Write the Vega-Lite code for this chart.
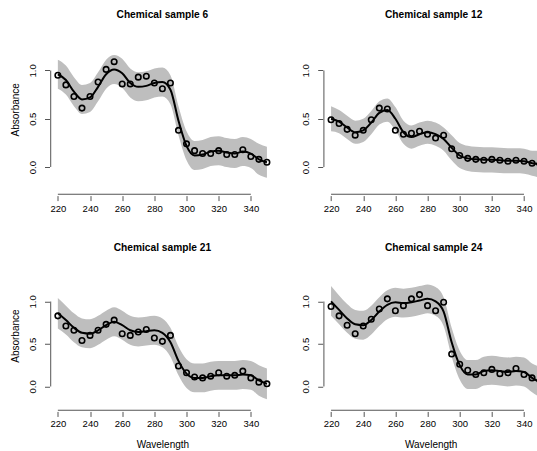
{
  "$schema": "https://vega.github.io/schema/vega-lite/v6.json",
  "padding": {"left": 9.5, "top": 10, "right": 0, "bottom": 0},
  "background": "white",
  "config": {
    "view": {"stroke": null},
    "font": "Liberation Sans",
    "scale": {"continuousPadding": 0},
    "axis": {"grid": false, "domain": false, "ticks": true, "tickColor": "#555", "tickSize": 5, "tickWidth": 1, "labelOverlap": false, "labelSeparation": 0, "labelFlush": false,
             "labelFont": "Liberation Sans", "labelFontSize": 9.5, "labelColor": "#000",
             "titleFont": "Liberation Sans", "titleFontSize": 10, "titleFontWeight": "normal", "titleColor": "#000"},
    "title": {"font": "Liberation Sans", "fontSize": 10.2, "fontWeight": "bold", "color": "#000"}
  },
  "datasets": {
    "s6": [
      {"wl": 220, "obs": 0.95, "fit": 0.96, "lo": 0.81, "hi": 1.11},
      {"wl": 225, "obs": 0.85, "fit": 0.90, "lo": 0.75, "hi": 1.05},
      {"wl": 230, "obs": 0.73, "fit": 0.78, "lo": 0.63, "hi": 0.93},
      {"wl": 235, "obs": 0.61, "fit": 0.70, "lo": 0.55, "hi": 0.85},
      {"wl": 240, "obs": 0.73, "fit": 0.72, "lo": 0.57, "hi": 0.87},
      {"wl": 245, "obs": 0.88, "fit": 0.83, "lo": 0.68, "hi": 0.98},
      {"wl": 250, "obs": 1.01, "fit": 0.96, "lo": 0.81, "hi": 1.11},
      {"wl": 255, "obs": 1.09, "fit": 1.01, "lo": 0.86, "hi": 1.16},
      {"wl": 260, "obs": 0.86, "fit": 0.97, "lo": 0.82, "hi": 1.12},
      {"wl": 265, "obs": 0.86, "fit": 0.87, "lo": 0.72, "hi": 1.02},
      {"wl": 270, "obs": 0.93, "fit": 0.83, "lo": 0.68, "hi": 0.98},
      {"wl": 275, "obs": 0.94, "fit": 0.84, "lo": 0.69, "hi": 0.99},
      {"wl": 280, "obs": 0.87, "fit": 0.87, "lo": 0.72, "hi": 1.02},
      {"wl": 285, "obs": 0.81, "fit": 0.88, "lo": 0.73, "hi": 1.03},
      {"wl": 290, "obs": 0.87, "fit": 0.80, "lo": 0.65, "hi": 0.95},
      {"wl": 295, "obs": 0.38, "fit": 0.48, "lo": 0.33, "hi": 0.63},
      {"wl": 300, "obs": 0.24, "fit": 0.22, "lo": 0.07, "hi": 0.37},
      {"wl": 305, "obs": 0.17, "fit": 0.12, "lo": -0.03, "hi": 0.27},
      {"wl": 310, "obs": 0.14, "fit": 0.13, "lo": -0.02, "hi": 0.28},
      {"wl": 315, "obs": 0.14, "fit": 0.16, "lo": 0.01, "hi": 0.31},
      {"wl": 320, "obs": 0.17, "fit": 0.17, "lo": 0.02, "hi": 0.32},
      {"wl": 325, "obs": 0.13, "fit": 0.15, "lo": 0.00, "hi": 0.30},
      {"wl": 330, "obs": 0.13, "fit": 0.14, "lo": -0.01, "hi": 0.29},
      {"wl": 335, "obs": 0.18, "fit": 0.16, "lo": 0.01, "hi": 0.31},
      {"wl": 340, "obs": 0.11, "fit": 0.14, "lo": -0.01, "hi": 0.29},
      {"wl": 345, "obs": 0.08, "fit": 0.08, "lo": -0.08, "hi": 0.24},
      {"wl": 350, "obs": 0.05, "fit": 0.05, "lo": -0.11, "hi": 0.21}
    ],
    "s12": [
      {"wl": 220, "obs": 0.49, "fit": 0.50, "lo": 0.37, "hi": 0.63},
      {"wl": 225, "obs": 0.45, "fit": 0.47, "lo": 0.35, "hi": 0.59},
      {"wl": 230, "obs": 0.39, "fit": 0.41, "lo": 0.29, "hi": 0.53},
      {"wl": 235, "obs": 0.33, "fit": 0.36, "lo": 0.24, "hi": 0.48},
      {"wl": 240, "obs": 0.38, "fit": 0.38, "lo": 0.26, "hi": 0.50},
      {"wl": 245, "obs": 0.49, "fit": 0.46, "lo": 0.34, "hi": 0.58},
      {"wl": 250, "obs": 0.61, "fit": 0.56, "lo": 0.44, "hi": 0.68},
      {"wl": 255, "obs": 0.60, "fit": 0.59, "lo": 0.47, "hi": 0.71},
      {"wl": 260, "obs": 0.38, "fit": 0.50, "lo": 0.38, "hi": 0.62},
      {"wl": 265, "obs": 0.34, "fit": 0.36, "lo": 0.24, "hi": 0.48},
      {"wl": 270, "obs": 0.35, "fit": 0.31, "lo": 0.19, "hi": 0.43},
      {"wl": 275, "obs": 0.37, "fit": 0.34, "lo": 0.22, "hi": 0.46},
      {"wl": 280, "obs": 0.34, "fit": 0.36, "lo": 0.24, "hi": 0.48},
      {"wl": 285, "obs": 0.30, "fit": 0.34, "lo": 0.22, "hi": 0.46},
      {"wl": 290, "obs": 0.33, "fit": 0.29, "lo": 0.17, "hi": 0.41},
      {"wl": 295, "obs": 0.19, "fit": 0.20, "lo": 0.07, "hi": 0.33},
      {"wl": 300, "obs": 0.12, "fit": 0.12, "lo": -0.01, "hi": 0.25},
      {"wl": 305, "obs": 0.09, "fit": 0.09, "lo": -0.04, "hi": 0.22},
      {"wl": 310, "obs": 0.08, "fit": 0.08, "lo": -0.05, "hi": 0.21},
      {"wl": 315, "obs": 0.07, "fit": 0.075, "lo": -0.055, "hi": 0.205},
      {"wl": 320, "obs": 0.08, "fit": 0.075, "lo": -0.055, "hi": 0.205},
      {"wl": 325, "obs": 0.07, "fit": 0.07, "lo": -0.06, "hi": 0.20},
      {"wl": 330, "obs": 0.06, "fit": 0.065, "lo": -0.065, "hi": 0.195},
      {"wl": 335, "obs": 0.07, "fit": 0.065, "lo": -0.065, "hi": 0.195},
      {"wl": 340, "obs": 0.06, "fit": 0.06, "lo": -0.07, "hi": 0.19},
      {"wl": 345, "obs": 0.04, "fit": 0.04, "lo": -0.09, "hi": 0.17},
      {"wl": 350, "obs": 0.03, "fit": 0.03, "lo": -0.11, "hi": 0.17}
    ],
    "s21": [
      {"wl": 220, "obs": 0.83, "fit": 0.86, "lo": 0.68, "hi": 1.04},
      {"wl": 225, "obs": 0.71, "fit": 0.78, "lo": 0.61, "hi": 0.95},
      {"wl": 230, "obs": 0.66, "fit": 0.69, "lo": 0.52, "hi": 0.86},
      {"wl": 235, "obs": 0.54, "fit": 0.63, "lo": 0.46, "hi": 0.80},
      {"wl": 240, "obs": 0.60, "fit": 0.62, "lo": 0.45, "hi": 0.79},
      {"wl": 245, "obs": 0.66, "fit": 0.66, "lo": 0.49, "hi": 0.83},
      {"wl": 250, "obs": 0.73, "fit": 0.72, "lo": 0.55, "hi": 0.89},
      {"wl": 255, "obs": 0.78, "fit": 0.76, "lo": 0.59, "hi": 0.93},
      {"wl": 260, "obs": 0.62, "fit": 0.72, "lo": 0.55, "hi": 0.89},
      {"wl": 265, "obs": 0.60, "fit": 0.66, "lo": 0.49, "hi": 0.83},
      {"wl": 270, "obs": 0.64, "fit": 0.64, "lo": 0.47, "hi": 0.81},
      {"wl": 275, "obs": 0.67, "fit": 0.65, "lo": 0.48, "hi": 0.82},
      {"wl": 280, "obs": 0.57, "fit": 0.66, "lo": 0.49, "hi": 0.83},
      {"wl": 285, "obs": 0.53, "fit": 0.63, "lo": 0.46, "hi": 0.80},
      {"wl": 290, "obs": 0.60, "fit": 0.52, "lo": 0.35, "hi": 0.69},
      {"wl": 295, "obs": 0.24, "fit": 0.30, "lo": 0.13, "hi": 0.47},
      {"wl": 300, "obs": 0.16, "fit": 0.15, "lo": -0.02, "hi": 0.32},
      {"wl": 305, "obs": 0.11, "fit": 0.10, "lo": -0.07, "hi": 0.27},
      {"wl": 310, "obs": 0.10, "fit": 0.10, "lo": -0.07, "hi": 0.27},
      {"wl": 315, "obs": 0.12, "fit": 0.12, "lo": -0.05, "hi": 0.29},
      {"wl": 320, "obs": 0.16, "fit": 0.13, "lo": -0.04, "hi": 0.30},
      {"wl": 325, "obs": 0.12, "fit": 0.13, "lo": -0.04, "hi": 0.30},
      {"wl": 330, "obs": 0.13, "fit": 0.13, "lo": -0.04, "hi": 0.30},
      {"wl": 335, "obs": 0.18, "fit": 0.14, "lo": -0.03, "hi": 0.31},
      {"wl": 340, "obs": 0.10, "fit": 0.13, "lo": -0.04, "hi": 0.30},
      {"wl": 345, "obs": 0.05, "fit": 0.07, "lo": -0.11, "hi": 0.25},
      {"wl": 350, "obs": 0.03, "fit": 0.03, "lo": -0.15, "hi": 0.21}
    ],
    "s24": [
      {"wl": 220, "obs": 0.94, "fit": 1.00, "lo": 0.83, "hi": 1.18},
      {"wl": 225, "obs": 0.83, "fit": 0.90, "lo": 0.73, "hi": 1.07},
      {"wl": 230, "obs": 0.72, "fit": 0.80, "lo": 0.63, "hi": 0.97},
      {"wl": 235, "obs": 0.62, "fit": 0.73, "lo": 0.56, "hi": 0.90},
      {"wl": 240, "obs": 0.71, "fit": 0.72, "lo": 0.55, "hi": 0.89},
      {"wl": 245, "obs": 0.79, "fit": 0.78, "lo": 0.61, "hi": 0.95},
      {"wl": 250, "obs": 0.91, "fit": 0.88, "lo": 0.71, "hi": 1.05},
      {"wl": 255, "obs": 1.03, "fit": 0.96, "lo": 0.79, "hi": 1.13},
      {"wl": 260, "obs": 0.89, "fit": 0.99, "lo": 0.82, "hi": 1.16},
      {"wl": 265, "obs": 0.95, "fit": 0.98, "lo": 0.81, "hi": 1.15},
      {"wl": 270, "obs": 1.03, "fit": 0.99, "lo": 0.82, "hi": 1.16},
      {"wl": 275, "obs": 1.08, "fit": 1.01, "lo": 0.84, "hi": 1.18},
      {"wl": 280, "obs": 0.95, "fit": 1.03, "lo": 0.86, "hi": 1.20},
      {"wl": 285, "obs": 0.89, "fit": 1.00, "lo": 0.83, "hi": 1.17},
      {"wl": 290, "obs": 0.99, "fit": 0.88, "lo": 0.71, "hi": 1.05},
      {"wl": 295, "obs": 0.38, "fit": 0.52, "lo": 0.35, "hi": 0.69},
      {"wl": 300, "obs": 0.26, "fit": 0.25, "lo": 0.08, "hi": 0.42},
      {"wl": 305, "obs": 0.19, "fit": 0.14, "lo": -0.03, "hi": 0.31},
      {"wl": 310, "obs": 0.14, "fit": 0.14, "lo": -0.03, "hi": 0.31},
      {"wl": 315, "obs": 0.16, "fit": 0.18, "lo": 0.01, "hi": 0.35},
      {"wl": 320, "obs": 0.20, "fit": 0.19, "lo": 0.02, "hi": 0.36},
      {"wl": 325, "obs": 0.15, "fit": 0.18, "lo": 0.01, "hi": 0.35},
      {"wl": 330, "obs": 0.16, "fit": 0.17, "lo": 0.00, "hi": 0.34},
      {"wl": 335, "obs": 0.21, "fit": 0.18, "lo": 0.01, "hi": 0.35},
      {"wl": 340, "obs": 0.14, "fit": 0.17, "lo": 0.00, "hi": 0.34},
      {"wl": 345, "obs": 0.10, "fit": 0.10, "lo": -0.07, "hi": 0.27},
      {"wl": 350, "obs": 0.07, "fit": 0.05, "lo": -0.13, "hi": 0.23}
    ]
  },
  "columns": 2,
  "spacing": {"row": 63.75, "column": 47.2},
  "bounds": "flush",
  "concat": [
    {
      "data": {"name": "s6"},
      "width": 225.8, "height": 172.6,
      "title": {"text": "Chemical sample 6", "offset": -5.2, "baseline": "alphabetic", "frame": "group"},
      "resolve": {"axis": {"x": "independent", "y": "independent"}},
      "layer": [
        {"mark": {"type": "area", "color": "#bebebe", "opacity": 1, "interpolate": "monotone", "clip": true},
         "encoding": {
           "x": {"field": "wl", "type": "quantitative", "title": null, "scale": {"domain": [214.8, 355.2], "nice": false, "zero": false, "padding": 0},
                 "axis": {"values": [220, 240, 260, 280, 300, 320, 340], "labelPadding": 2.5}},
           "y": {"field": "lo", "type": "quantitative", "title": "Absorbance", "scale": {"domain": [-0.295, 1.49], "nice": false, "zero": false, "padding": 0},
                 "axis": {"values": [0, 0.5, 1], "format": ".1f", "labelAngle": 270, "labelAlign": "center", "labelBaseline": "bottom", "labelPadding": 7, "titlePadding": 7}},
           "y2": {"field": "hi"}}},
        {"mark": {"type": "line", "color": "#000", "strokeWidth": 2, "interpolate": "monotone", "clip": true},
         "encoding": {"x": {"field": "wl", "type": "quantitative", "axis": null}, "y": {"field": "fit", "type": "quantitative", "axis": null}}},
        {"mark": {"type": "point", "shape": "circle", "filled": false, "color": "#000", "opacity": 1, "size": 30, "strokeWidth": 1.6, "clip": true},
         "encoding": {"x": {"field": "wl", "type": "quantitative", "axis": null}, "y": {"field": "obs", "type": "quantitative", "axis": null}}},
        {"transform": [{"filter": "datum.wl == 220"}],
         "mark": {"type": "bar", "color": "#555", "opacity": 1, "size": 1},
         "encoding": {"x": {"datum": 215.55, "type": "quantitative", "axis": null}, "y": {"datum": 0, "type": "quantitative", "axis": null}, "y2": {"datum": 1}}},
        {"transform": [{"filter": "datum.wl == 220"}],
         "mark": {"type": "bar", "color": "#555", "opacity": 1, "size": 1},
         "encoding": {"x": {"datum": 220, "type": "quantitative", "axis": null}, "x2": {"datum": 340}, "y": {"datum": -0.282, "type": "quantitative", "axis": null}}}
      ]
    },
    {
      "data": {"name": "s12"},
      "width": 216, "height": 172.6,
      "title": {"text": "Chemical sample 12", "offset": -5.2, "baseline": "alphabetic", "frame": "group", "dx": 3},
      "resolve": {"axis": {"x": "independent", "y": "independent"}},
      "layer": [
        {"mark": {"type": "area", "color": "#bebebe", "opacity": 1, "interpolate": "monotone", "clip": true},
         "encoding": {
           "x": {"field": "wl", "type": "quantitative", "title": null, "scale": {"domain": [214.8, 349.13], "nice": false, "zero": false, "padding": 0},
                 "axis": {"values": [220, 240, 260, 280, 300, 320, 340], "labelPadding": 2.5}},
           "y": {"field": "lo", "type": "quantitative", "title": null, "scale": {"domain": [-0.295, 1.49], "nice": false, "zero": false, "padding": 0},
                 "axis": {"values": [0, 0.5, 1], "format": ".1f", "labelAngle": 270, "labelAlign": "center", "labelBaseline": "bottom", "labelPadding": 7}},
           "y2": {"field": "hi"}}},
        {"mark": {"type": "line", "color": "#000", "strokeWidth": 2, "interpolate": "monotone", "clip": true},
         "encoding": {"x": {"field": "wl", "type": "quantitative", "axis": null}, "y": {"field": "fit", "type": "quantitative", "axis": null}}},
        {"mark": {"type": "point", "shape": "circle", "filled": false, "color": "#000", "opacity": 1, "size": 30, "strokeWidth": 1.6, "clip": true},
         "encoding": {"x": {"field": "wl", "type": "quantitative", "axis": null}, "y": {"field": "obs", "type": "quantitative", "axis": null}}},
        {"transform": [{"filter": "datum.wl == 220"}],
         "mark": {"type": "bar", "color": "#555", "opacity": 1, "size": 1},
         "encoding": {"x": {"datum": 215.55, "type": "quantitative", "axis": null}, "y": {"datum": 0, "type": "quantitative", "axis": null}, "y2": {"datum": 1}}},
        {"transform": [{"filter": "datum.wl == 220"}],
         "mark": {"type": "bar", "color": "#555", "opacity": 1, "size": 1},
         "encoding": {"x": {"datum": 220, "type": "quantitative", "axis": null}, "x2": {"datum": 340}, "y": {"datum": -0.282, "type": "quantitative", "axis": null}}}
      ]
    },
    {
      "data": {"name": "s21"},
      "width": 225.8, "height": 151.7,
      "title": {"text": "Chemical sample 21", "offset": -1.85, "baseline": "alphabetic", "frame": "group"},
      "resolve": {"axis": {"x": "independent", "y": "independent"}},
      "layer": [
        {"mark": {"type": "area", "color": "#bebebe", "opacity": 1, "interpolate": "monotone", "clip": true},
         "encoding": {
           "x": {"field": "wl", "type": "quantitative", "title": "Wavelength", "scale": {"domain": [214.8, 355.2], "nice": false, "zero": false, "padding": 0},
                 "axis": {"values": [220, 240, 260, 280, 300, 320, 340], "labelPadding": 2.5, "titlePadding": 11}},
           "y": {"field": "lo", "type": "quantitative", "title": "Absorbance", "scale": {"domain": [-0.295, 1.49], "nice": false, "zero": false, "padding": 0},
                 "axis": {"values": [0, 0.5, 1], "format": ".1f", "labelAngle": 270, "labelAlign": "center", "labelBaseline": "bottom", "labelPadding": 7, "titlePadding": 7}},
           "y2": {"field": "hi"}}},
        {"mark": {"type": "line", "color": "#000", "strokeWidth": 2, "interpolate": "monotone", "clip": true},
         "encoding": {"x": {"field": "wl", "type": "quantitative", "axis": null}, "y": {"field": "fit", "type": "quantitative", "axis": null}}},
        {"mark": {"type": "point", "shape": "circle", "filled": false, "color": "#000", "opacity": 1, "size": 30, "strokeWidth": 1.6, "clip": true},
         "encoding": {"x": {"field": "wl", "type": "quantitative", "axis": null}, "y": {"field": "obs", "type": "quantitative", "axis": null}}},
        {"transform": [{"filter": "datum.wl == 220"}],
         "mark": {"type": "bar", "color": "#555", "opacity": 1, "size": 1},
         "encoding": {"x": {"datum": 215.55, "type": "quantitative", "axis": null}, "y": {"datum": 0, "type": "quantitative", "axis": null}, "y2": {"datum": 1}}},
        {"transform": [{"filter": "datum.wl == 220"}],
         "mark": {"type": "bar", "color": "#555", "opacity": 1, "size": 1},
         "encoding": {"x": {"datum": 220, "type": "quantitative", "axis": null}, "x2": {"datum": 340}, "y": {"datum": -0.281, "type": "quantitative", "axis": null}}}
      ]
    },
    {
      "data": {"name": "s24"},
      "width": 216, "height": 151.7,
      "title": {"text": "Chemical sample 24", "offset": -1.85, "baseline": "alphabetic", "frame": "group", "dx": 3},
      "resolve": {"axis": {"x": "independent", "y": "independent"}},
      "layer": [
        {"mark": {"type": "area", "color": "#bebebe", "opacity": 1, "interpolate": "monotone", "clip": true},
         "encoding": {
           "x": {"field": "wl", "type": "quantitative", "title": "Wavelength", "scale": {"domain": [214.8, 349.13], "nice": false, "zero": false, "padding": 0},
                 "axis": {"values": [220, 240, 260, 280, 300, 320, 340], "labelPadding": 2.5, "titlePadding": 11}},
           "y": {"field": "lo", "type": "quantitative", "title": null, "scale": {"domain": [-0.295, 1.49], "nice": false, "zero": false, "padding": 0},
                 "axis": {"values": [0, 0.5, 1], "format": ".1f", "labelAngle": 270, "labelAlign": "center", "labelBaseline": "bottom", "labelPadding": 7}},
           "y2": {"field": "hi"}}},
        {"mark": {"type": "line", "color": "#000", "strokeWidth": 2, "interpolate": "monotone", "clip": true},
         "encoding": {"x": {"field": "wl", "type": "quantitative", "axis": null}, "y": {"field": "fit", "type": "quantitative", "axis": null}}},
        {"mark": {"type": "point", "shape": "circle", "filled": false, "color": "#000", "opacity": 1, "size": 30, "strokeWidth": 1.6, "clip": true},
         "encoding": {"x": {"field": "wl", "type": "quantitative", "axis": null}, "y": {"field": "obs", "type": "quantitative", "axis": null}}},
        {"transform": [{"filter": "datum.wl == 220"}],
         "mark": {"type": "bar", "color": "#555", "opacity": 1, "size": 1},
         "encoding": {"x": {"datum": 215.55, "type": "quantitative", "axis": null}, "y": {"datum": 0, "type": "quantitative", "axis": null}, "y2": {"datum": 1}}},
        {"transform": [{"filter": "datum.wl == 220"}],
         "mark": {"type": "bar", "color": "#555", "opacity": 1, "size": 1},
         "encoding": {"x": {"datum": 220, "type": "quantitative", "axis": null}, "x2": {"datum": 340}, "y": {"datum": -0.281, "type": "quantitative", "axis": null}}}
      ]
    }
  ]
}
